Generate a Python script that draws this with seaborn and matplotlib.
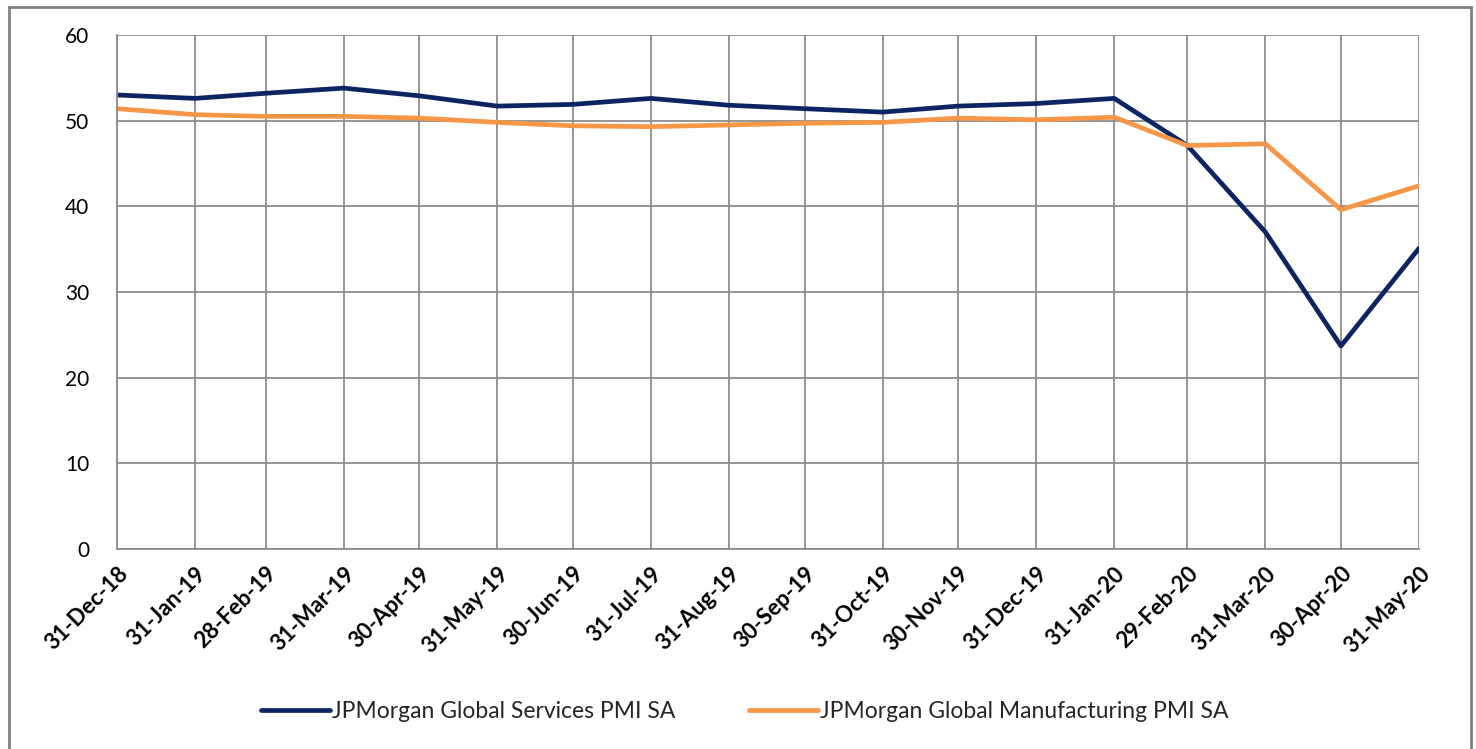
import pandas as pd
import numpy as np
import matplotlib.pyplot as plt
import matplotlib.dates as mdates
from matplotlib.patches import Rectangle
import seaborn as sns

# dữ liệu
dates = ['2018-12-31', '2019-01-31', '2019-02-28', '2019-03-31', '2019-04-30', '2019-05-31',
         '2019-06-30', '2019-07-31', '2019-08-31', '2019-09-30', '2019-10-31', '2019-11-30',
         '2019-12-31', '2020-01-31', '2020-02-29', '2020-03-31', '2020-04-30', '2020-05-31']
services = [53.0, 52.6, 53.2, 53.8, 52.9, 51.7, 51.9, 52.6, 51.8, 51.4, 51.0, 51.7,
            52.0, 52.6, 47.1, 37.0, 23.7, 35.1]
manufacturing = [51.4, 50.7, 50.5, 50.5, 50.3, 49.8, 49.4, 49.3, 49.5, 49.7, 49.8, 50.3,
                 50.1, 50.4, 47.1, 47.3, 39.6, 42.4]
series_names = ['JPMorgan Global Services PMI SA', 'JPMorgan Global Manufacturing PMI SA']
yticks = [0, 10, 20, 30, 40, 50, 60]

df = pd.DataFrame({'date': pd.to_datetime(dates),
                   series_names[0]: services,
                   series_names[1]: manufacturing})
long = df.melt(id_vars='date', var_name='series', value_name='value')

sns.set_style('white')
plt.rcParams['font.family'] = ['Lato', 'DejaVu Sans']

fig = plt.figure(figsize=(14.76, 7.49), dpi=100)
ax = fig.add_axes([117 / 1476, 1 - 549 / 749, (1419 - 117) / 1476, (549 - 35) / 749])

sns.lineplot(data=long, x='date', y='value', hue='series', ax=ax,
             palette=['#0c2461', '#f79646'], linewidth=3.4, legend=True)

grid_c = '#8c8c8c'
ax.set_xlim(df['date'].iloc[0], df['date'].iloc[-1])
ax.set_ylim(0, 60)
ax.set_yticks(yticks)
ax.set_xticks(df['date'])
ax.xaxis.set_major_formatter(mdates.DateFormatter('%d-%b-%y'))
ax.grid(True, color=grid_c, linewidth=1.3)
ax.set_axisbelow(True)
for s in ['top', 'right']:
    ax.spines[s].set_visible(False)
for s in ['left', 'bottom']:
    ax.spines[s].set_color(grid_c)
    ax.spines[s].set_linewidth(1.3)
ax.tick_params(axis='both', which='major', length=6, width=1.3, color=grid_c,
               direction='out', labelsize=15, labelcolor='black', pad=4)
ax.tick_params(axis='x', labelsize=16)
ax.tick_params(axis='y', pad=14)
for lab in ax.get_xticklabels():
    lab.set_rotation(45)
    lab.set_ha('right')
    lab.set_rotation_mode('anchor')
    lab.set_fontweight('bold')
ax.set_xlabel('')
ax.set_ylabel('')

handles, labels = ax.get_legend_handles_labels()
ax.legend_.remove()
fig.legend(handles, labels, loc='center', bbox_to_anchor=(745 / 1476, 1 - 712 / 749),
           ncol=2, frameon=False, fontsize=16.5, handlelength=3.0, handletextpad=0.1,
           columnspacing=3.2)

# khung viền ngoài
fig.add_artist(Rectangle((9 / 1476, -0.01), (1471 - 9) / 1476, 1 - 7 / 749 + 0.01,
                         transform=fig.transFigure, fill=False, edgecolor='#808080',
                         linewidth=2))

fig.savefig('out.png', dpi=100)
